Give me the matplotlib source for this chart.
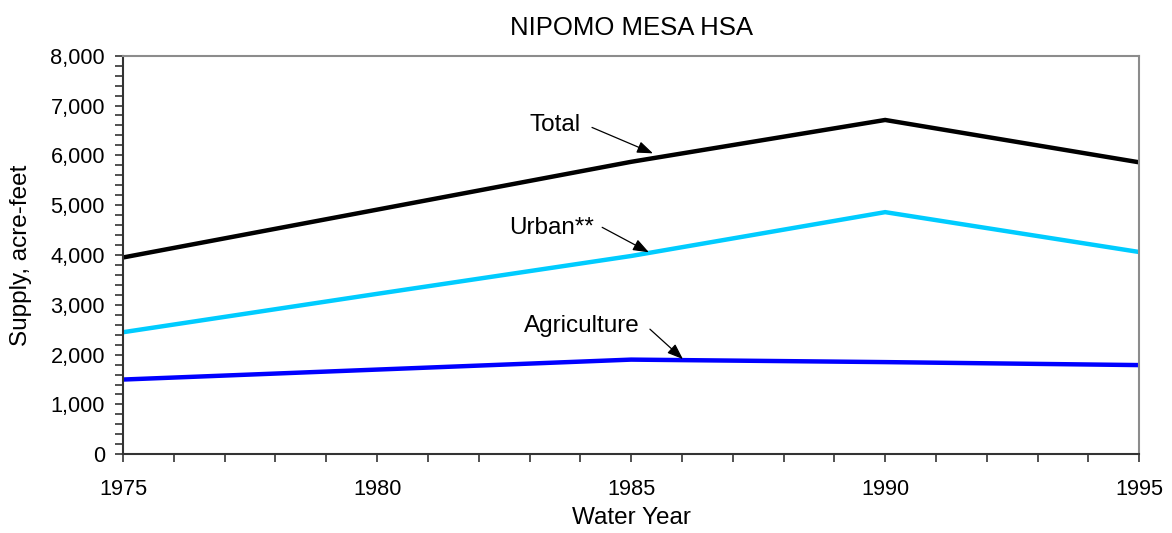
import numpy as np
import matplotlib.pyplot as plt
from matplotlib.ticker import MultipleLocator, StrMethodFormatter

plt.rcParams['font.family'] = ['Liberation Sans', 'DejaVu Sans']

# supply by water year, acre-feet
years = [1975, 1980, 1985, 1990, 1995]
total = [3950, 4910, 5870, 6710, 5860]
urban = [2450, 3220, 3980, 4860, 4060]
agriculture = [1500, 1700, 1900, 1850, 1790]

fig = plt.figure(figsize=(11.72, 5.33), dpi=100)
ax = fig.add_axes([0.105, 0.1477, 0.867, 0.7478])

ax.plot(years, total, color='black', lw=3.2, solid_joinstyle='miter')
ax.plot(years, urban, color='#00CCFF', lw=3.2, solid_joinstyle='miter')
ax.plot(years, agriculture, color='#0000FF', lw=3.2, solid_joinstyle='miter')

ax.set_xlim(1975, 1995)
ax.set_ylim(0, 8000)
ax.xaxis.set_major_locator(MultipleLocator(5))
ax.xaxis.set_minor_locator(MultipleLocator(1))
ax.yaxis.set_major_locator(MultipleLocator(1000))
ax.yaxis.set_minor_locator(MultipleLocator(200))
ax.yaxis.set_major_formatter(StrMethodFormatter('{x:,.0f}'))
ax.tick_params(which='both', direction='out', length=6, width=1.2, color='#333333', labelsize=15.7)
ax.tick_params(axis='y', pad=7)
ax.tick_params(axis='x', pad=12)

for side in ['left', 'bottom']:
    ax.spines[side].set_color('#333333')
    ax.spines[side].set_linewidth(1.5)
for side in ['top', 'right']:
    ax.spines[side].set_color('#8c8c8c')
    ax.spines[side].set_linewidth(1.5)

ax.set_title('NIPOMO MESA HSA', fontsize=18.5, pad=15)
ax.set_xlabel('Water Year', fontsize=17.5, labelpad=5)
ax.set_ylabel('Supply, acre-feet', fontsize=17.5, labelpad=13)

# labels with arrows
arrow = dict(arrowstyle='-|>,head_length=0.8,head_width=0.3', color='black', lw=0.9,
             mutation_scale=12, shrinkA=0, shrinkB=0)
ax.text(1983.5, 6600, 'Total', fontsize=17.5, ha='center', va='center')
ax.annotate('', xy=(1985.43, 6040), xytext=(1984.23, 6560), arrowprops=arrow)
ax.text(1983.44, 4535, 'Urban**', fontsize=17.5, ha='center', va='center')
ax.annotate('', xy=(1985.35, 4054), xytext=(1984.43, 4555), arrowprops=arrow)
ax.text(1984.03, 2571, 'Agriculture', fontsize=17.5, ha='center', va='center')
ax.annotate('', xy=(1986.02, 1910), xytext=(1985.37, 2511), arrowprops=arrow)

fig.savefig('out.png', dpi=100)
